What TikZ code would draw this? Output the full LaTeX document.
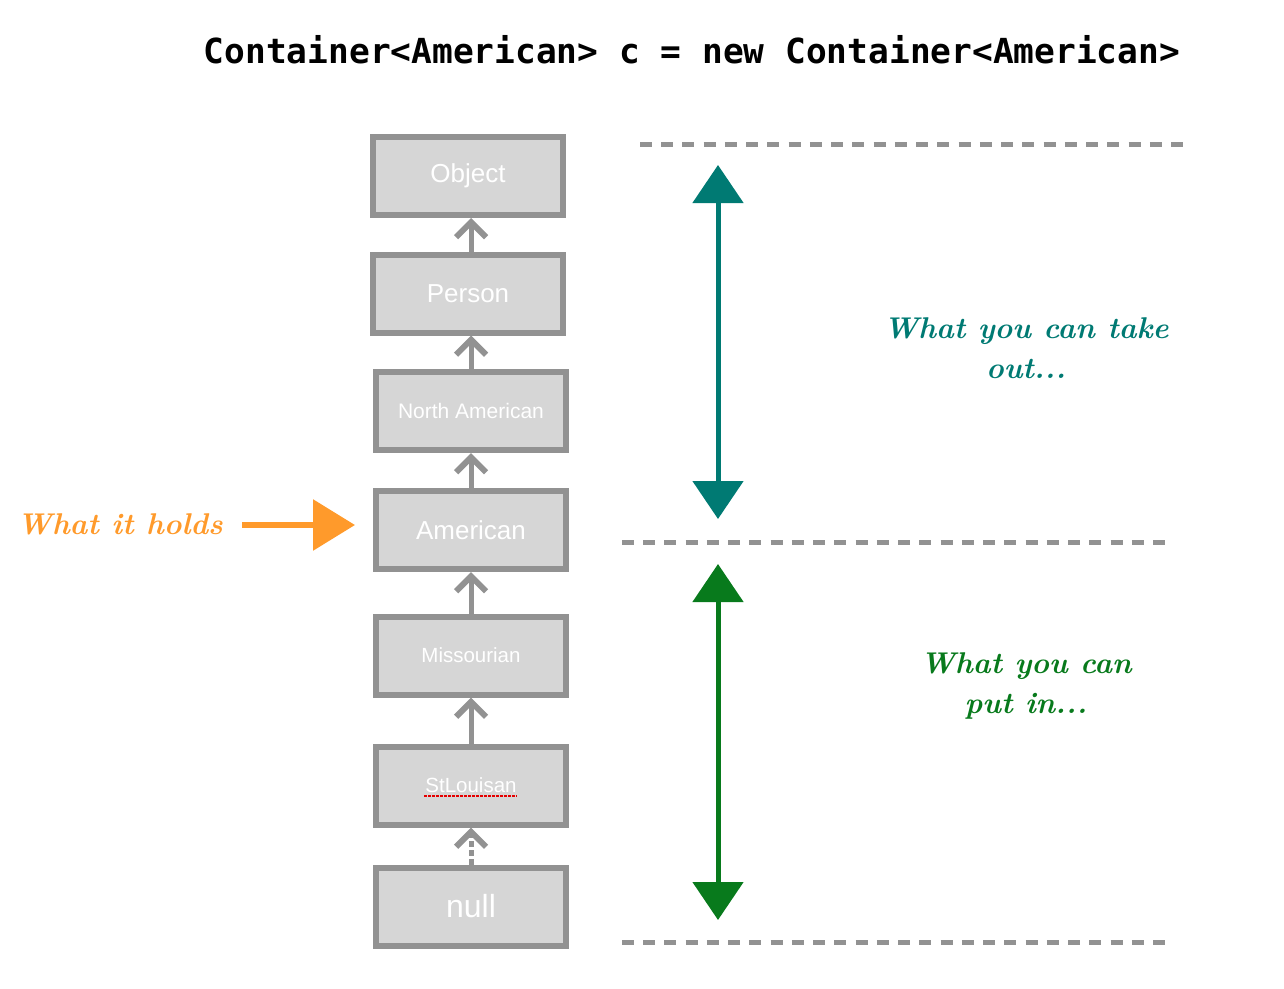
\documentclass[tikz,border=0pt]{standalone}
\usepackage{fontspec}
\setmainfont{Latin Modern Roman}
\newfontfamily\boxfont{Liberation Sans}
\newfontfamily\codefont{DejaVu Sans Mono}
\usetikzlibrary{arrows.meta,calc}
\definecolor{boxgray}{HTML}{929292}
\definecolor{boxfill}{HTML}{D6D6D6}
\definecolor{tealc}{HTML}{007A73}
\definecolor{greenc}{HTML}{087A1C}
\definecolor{orangec}{HTML}{FF9A2B}
\tikzset{
  typebox/.style={draw=boxgray, fill=boxfill, line width=6pt, minimum width=190pt, minimum height=78pt, inner sep=0pt, text=white, font=\boxfont},
  inherit/.style={draw=boxgray, line width=5pt, -{Straight Barb[width=30pt,length=15pt,line width=6pt]}},
  sep/.style={draw=boxgray, line width=5pt, dash pattern=on 12pt off 9.24pt},
  bigarrow/.style={line width=5pt, {Triangle[width=50pt,length=38pt]}-{Triangle[width=50pt,length=38pt]}},
  hand/.style={font=\bfseries\itshape\fontsize{30}{40}\selectfont, align=center},
}
\begin{document}
\begin{tikzpicture}[x=1pt,y=-1pt]
\useasboundingbox (0,0) rectangle (1284,988);

\node[font=\codefont\bfseries\fontsize{34.5}{40}\selectfont] (title) at (692,50) {Container<American> c = new Container<American>};

\node[typebox, font=\boxfont\fontsize{26}{30}\selectfont] (obj) at (468,176) {Object};
\node[typebox, font=\boxfont\fontsize{26}{30}\selectfont] (per) at (468,293.5) {Person};
\node[typebox, font=\boxfont\fontsize{21}{25}\selectfont] (na) at (471,411) {North American};
\node[typebox, font=\boxfont\fontsize{26}{30}\selectfont] (am) at (471,530) {American};
\node[typebox, font=\boxfont\fontsize{20.5}{25}\selectfont] (mis) at (471,655.5) {Missourian};
\node[typebox, font=\boxfont\fontsize{20.5}{25}\selectfont] (stl) at (471,785.5) {StLouisan};
\node[typebox, font=\boxfont\fontsize{32}{36}\selectfont] (nul) at (471,906.5) {null};

\draw[red!90!black, line width=2pt, dash pattern=on 2.5pt off 1.5pt] ([xshift=-47pt,yshift=-10pt]stl.center) -- ([xshift=46pt,yshift=-10pt]stl.center);

\draw[inherit] ([xshift=3pt]per.north) -- ([xshift=3pt]obj.south);
\draw[inherit] (na.north) -- (na.north |- per.south);
\draw[inherit] (am.north) -- (na.south);
\draw[inherit] (mis.north) -- (am.south);
\draw[inherit] (stl.north) -- (mis.south);
\draw[inherit, dash pattern=on 6pt off 3pt] (nul.north) -- (stl.south);

\coordinate (t1) at (640,144);
\coordinate (t2) at (1183,144);
\coordinate (m1) at (622,542);
\coordinate (m2) at (1165,542);
\coordinate (b1) at (622,942);
\coordinate (b2) at (1165,942);
\draw[sep] (t1) -- (t2);
\draw[sep] (m1) -- (m2);
\draw[sep] (b1) -- (b2);

\coordinate (ta) at (718,165);
\coordinate (tb) at (718,519);
\coordinate (ga) at (718,564);
\coordinate (gb) at (718,920);
\draw[bigarrow, tealc] (ta) -- (tb);
\draw[bigarrow, greenc] (ga) -- (gb);

\node[hand, text=tealc] (take) at (1026,348) {What you can take\\out...};
\node[hand, text=greenc] (put) at (1026,686) {What you can\\put in...};

\node[hand, text=orangec] (hold) at (120,524) {What it holds};
\coordinate (holdtip) at (355,525);
\draw[orangec, line width=6pt, -{Triangle[width=50pt,length=42pt]}] ([xshift=16pt]hold.east |- holdtip) -- (holdtip);
\end{tikzpicture}
\end{document}
